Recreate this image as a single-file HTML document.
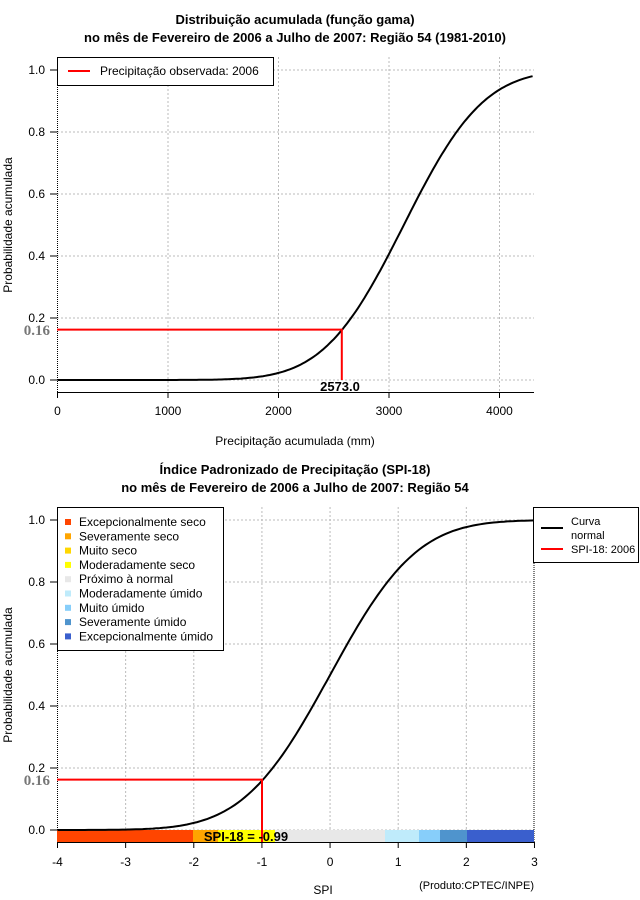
<!DOCTYPE html>
<html><head><meta charset="utf-8"><style>
body{margin:0;background:#fff;}
svg{display:block;font-family:"Liberation Sans",sans-serif;}
</style></head><body>
<svg id="s" width="640" height="900" viewBox="0 0 640 900">
<rect width="640" height="900" fill="#fff"/>
<g font-weight="bold" font-size="13" text-anchor="middle">
<text x="295" y="24">Distribuição acumulada (função gama)</text>
<text x="295" y="42">no mês de Fevereiro de 2006 a Julho de 2007: Região 54 (1981-2010)</text>
<text x="295" y="474">Índice Padronizado de Precipitação (SPI-18)</text>
<text x="295" y="492">no mês de Fevereiro de 2006 a Julho de 2007: Região 54</text>
</g>
<g id="g1" stroke="#bbb" stroke-dasharray="2,2" stroke-width="1" fill="none"></g>
<g font-size="12" text-anchor="middle">
<text x="295" y="445">Precipitação acumulada (mm)</text>
<text transform="translate(12,225) rotate(-90)">Probabilidade acumulada</text>
<text transform="translate(12,675) rotate(-90)">Probabilidade acumulada</text>
<text x="323" y="894">SPI</text>
</g>
<text x="534" y="889" font-size="11" text-anchor="end">(Produto:CPTEC/INPE)</text>
<g id="ax" font-size="12"></g>
<!-- colorbar -->
<rect x="57" y="830" width="136" height="12" fill="#FF4500"/>
<rect x="193" y="830" width="25" height="12" fill="#FFA500"/>
<rect x="218" y="830" width="57" height="12" fill="#FFFF00"/>
<rect x="275" y="830" width="110" height="12" fill="#E8E8E8"/>
<rect x="385" y="830" width="34" height="12" fill="#BFEBFB"/>
<rect x="419" y="830" width="21" height="12" fill="#87CEFA"/>
<rect x="440" y="830" width="27" height="12" fill="#4F94CD"/>
<rect x="467" y="830" width="67" height="12" fill="#3A5FCD"/>
<path id="c1" fill="none" stroke="#000" stroke-width="2"/>
<path id="c2" fill="none" stroke="#000" stroke-width="2"/>
<path d="M57,329.6H341.8V380" stroke="#f00" stroke-width="2" fill="none"/>
<path d="M57,779.6H262V842" stroke="#f00" stroke-width="2" fill="none"/>
<text x="50" y="335" font-family="Liberation Serif,serif" font-size="15" font-weight="bold" fill="#777" text-anchor="end">0.16</text>
<text x="50" y="785" font-family="Liberation Serif,serif" font-size="15" font-weight="bold" fill="#777" text-anchor="end">0.16</text>
<text x="340" y="391" font-size="13" font-weight="bold" text-anchor="middle">2573.0</text>
<text x="246" y="841" font-size="13" font-weight="bold" text-anchor="middle">SPI-18 = -0.99</text>
<!-- legend 1 -->
<rect x="57.5" y="57.5" width="216" height="28" fill="#fff" stroke="#000"/>
<line x1="68" y1="71" x2="90" y2="71" stroke="#f00" stroke-width="2"/>
<text x="100" y="75" font-size="12">Precipitação observada: 2006</text>
<!-- legend 2 -->
<rect x="57.5" y="507.5" width="166" height="143" fill="#fff" stroke="#000"/>
<g font-size="12" id="lg"></g>
<!-- legend 3 -->
<rect x="533.5" y="507.5" width="105" height="55" fill="#fff" stroke="#000"/>
<line x1="541" y1="528" x2="563" y2="528" stroke="#000" stroke-width="2"/>
<line x1="541" y1="549" x2="563" y2="549" stroke="#f00" stroke-width="2"/>
<text x="571" y="525" font-size="11">Curva</text>
<text x="571" y="539" font-size="11">normal</text>
<text x="571" y="553" font-size="11">SPI-18: 2006</text>
</svg>
<script>
var NS="http://www.w3.org/2000/svg";
function el(p,t,a,txt){var e=document.createElementNS(NS,t);for(var k in a)e.setAttribute(k,a[k]);if(txt!=null)e.textContent=txt;p.appendChild(e);return e;}
function erf(x){var s=x<0?-1:1;x=Math.abs(x);var t=1/(1+0.3275911*x);var y=1-(((((1.061405429*t-1.453152027)*t)+1.421413741)*t-0.284496736)*t+0.254829592)*t*Math.exp(-x*x);return s*y;}
function Phi(z){return 0.5*(1+erf(z/Math.SQRT2));}
var g=document.getElementById("g1"),ax=document.getElementById("ax");
// plot1
function X1(v){return 57.5+v*0.1105;}
function Y1(p){return 380-310*p;}
[1000,2000,3000,4000].forEach(function(v){el(g,"line",{x1:X1(v),y1:57,x2:X1(v),y2:392});});
[0,0.2,0.4,0.6,0.8,1].forEach(function(p){el(g,"line",{x1:57,y1:Y1(p),x2:534,y2:Y1(p)});});
el(ax,"line",{x1:57.5,y1:57,x2:57.5,y2:392,stroke:"#000","stroke-dasharray":"1,1"});
el(ax,"line",{x1:57.5,y1:392.5,x2:534,y2:392.5,stroke:"#000"});
[0,1000,2000,3000,4000].forEach(function(v){var x=X1(v);el(ax,"line",{x1:x,y1:392,x2:x,y2:398,stroke:"#000"});el(ax,"text",{x:x,y:415,"text-anchor":"middle"},String(v));});
[0,0.2,0.4,0.6,0.8,1].forEach(function(p){var y=Y1(p);el(ax,"line",{x1:50,y1:y,x2:57,y2:y,stroke:"#000"});el(ax,"text",{x:45,y:y+4,"text-anchor":"end"},p.toFixed(1));});
var d="";for(var v=0;v<=4316;v+=20){var p=Phi((v-3134)/567);d+=(v?"L":"M")+X1(v).toFixed(1)+","+Y1(p).toFixed(1);}
document.getElementById("c1").setAttribute("d",d);
// plot2
function X2(v){return 57.5+(v+4)*68.14;}
function Y2(p){return 830-310*p;}
[-3,-2,-1,0,1,2].forEach(function(v){el(g,"line",{x1:X2(v),y1:507,x2:X2(v),y2:842});});
[0,0.2,0.4,0.6,0.8,1].forEach(function(p){el(g,"line",{x1:57,y1:Y2(p),x2:534,y2:Y2(p)});});
el(ax,"line",{x1:57.5,y1:507,x2:57.5,y2:842,stroke:"#000","stroke-dasharray":"1,1"});
el(ax,"line",{x1:534,y1:563,x2:534,y2:842,stroke:"#000","stroke-dasharray":"1,1"});
el(ax,"line",{x1:57.5,y1:842.5,x2:534,y2:842.5,stroke:"#000"});
[-4,-3,-2,-1,0,1,2,3].forEach(function(v){var x=X2(v);el(ax,"line",{x1:x,y1:842,x2:x,y2:848,stroke:"#000"});el(ax,"text",{x:x,y:866,"text-anchor":"middle"},String(v));});
[0,0.2,0.4,0.6,0.8,1].forEach(function(p){var y=Y2(p);el(ax,"line",{x1:50,y1:y,x2:57,y2:y,stroke:"#000"});el(ax,"text",{x:45,y:y+4,"text-anchor":"end"},p.toFixed(1));});
d="";for(var v=-4;v<=3.001;v+=0.05){d+=(v<-3.99?"M":"L")+X2(v).toFixed(1)+","+Y2(Phi(v)).toFixed(1);}
document.getElementById("c2").setAttribute("d",d);
var lg=document.getElementById("lg");
[["Excepcionalmente seco","#FF4500"],["Severamente seco","#FFA500"],["Muito seco","#FFD700"],["Moderadamente seco","#FFFF00"],["Próximo à normal","#E8E8E8"],["Moderadamente úmido","#BFEBFB"],["Muito úmido","#87CEFA"],["Severamente úmido","#4F94CD"],["Excepcionalmente úmido","#3A5FCD"]].forEach(function(a,i){var y=522+i*14.3;el(lg,"rect",{x:65,y:y-3,width:6,height:6,fill:a[1]});el(lg,"text",{x:79,y:y+4},a[0]);});
</script>
</body></html>
